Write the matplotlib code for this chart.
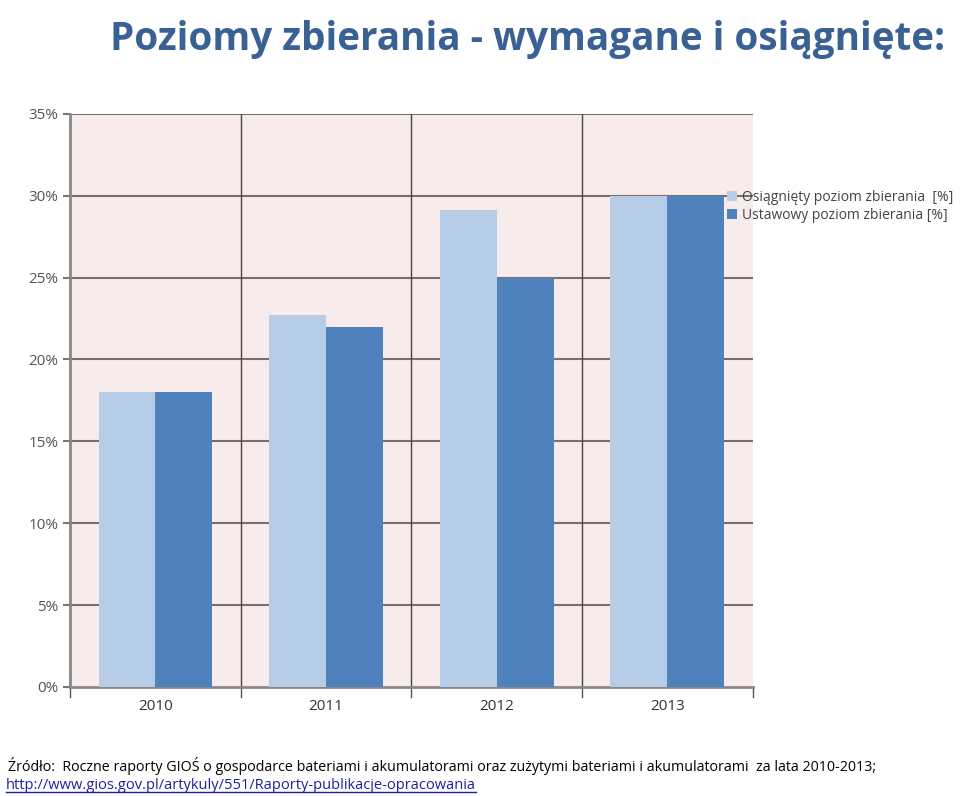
import numpy as np
import matplotlib.pyplot as plt

years = ['2010', '2011', '2012', '2013']
osiagniety = [18.0, 22.7, 29.1, 30.0]
ustawowy = [18.0, 22.0, 25.0, 30.0]
yticks = [0, 5, 10, 15, 20, 25, 30, 35]

fig = plt.figure(figsize=(9.6, 7.96), dpi=100)
ax = fig.add_axes([0.073, 0.137, 0.711, 0.72])

x = np.arange(len(years))
w = 0.333
ax.bar(x - w / 2, osiagniety, w, color='#b7cce6', label='Osiągnięty poziom zbierania  [%]', zorder=3)
ax.bar(x + w / 2, ustawowy, w, color='#4f81bd', label='Ustawowy poziom zbierania [%]', zorder=3)

ax.set_facecolor('#f8ebeb')
ax.set_xlim(-0.5, len(years) - 0.5)
ax.set_ylim(0, 35)
ax.set_yticks(yticks)
ax.set_yticklabels([f'{t}%' for t in yticks], color='#555555', fontsize=11, family='Open Sans')
ax.set_xticks(x)
ax.set_xticklabels(years, color='#333333', fontsize=11, family='Open Sans')
ax.tick_params(axis='x', length=0, pad=9)
ax.tick_params(axis='y', length=5, color='#777777', width=1.5)

# grid lines: horizontal at ticks, vertical at category boundaries
for t in yticks[1:]:
    ax.axhline(t, color='#7a6f6f', lw=1.5, zorder=2)
for b in np.arange(0.5, len(years) - 0.5, 1):
    ax.axvline(b, color='#4a4444', lw=1.0, zorder=2)
for b in np.arange(-0.5, len(years) + 0.5, 1):
    ax.plot([b, b], [0, -0.6], color='#555555', lw=1, clip_on=False)

for s in ['top', 'right']:
    ax.spines[s].set_visible(False)
ax.spines['left'].set_color('#888888')
ax.spines['left'].set_linewidth(2)
ax.spines['bottom'].set_color('#888888')
ax.spines['bottom'].set_linewidth(2)

leg = fig.legend(*ax.get_legend_handles_labels(), loc='upper left',
                 bbox_to_anchor=(0.750, 0.770), frameon=False,
                 handlelength=0.75, handleheight=0.75, handletextpad=0.3,
                 labelspacing=0.2, borderpad=0, prop={'family': 'Open Sans', 'size': 10})
for t in leg.get_texts():
    t.set_color('#444444')

fig.text(0.985, 0.975, 'Poziomy zbierania - wymagane i osiągnięte:', ha='right', va='top',
         fontsize=27.8, fontweight='bold', color='#3a6193', family='Open Sans')

fig.text(0.008, 0.032, 'Źródło:  Roczne raporty GIOŚ o gospodarce bateriami i akumulatorami oraz zużytymi bateriami i akumulatorami  za lata 2010-2013;',
         ha='left', va='baseline', fontsize=10.3, color='black', family='Open Sans')
link = fig.text(0.006, 0.009, 'http://www.gios.gov.pl/artykuly/551/Raporty-publikacje-opracowania',
                ha='left', va='baseline', fontsize=10.5, color='#1f1fa0', family='Open Sans')

# underline the link using its rendered extent
fig.canvas.draw()
bb = link.get_window_extent().transformed(fig.transFigure.inverted())
fig.lines.append(plt.Line2D([bb.x0, bb.x1], [0.005, 0.005], transform=fig.transFigure,
                            color='#1f1fa0', lw=1))

fig.savefig('out.png', dpi=100)
